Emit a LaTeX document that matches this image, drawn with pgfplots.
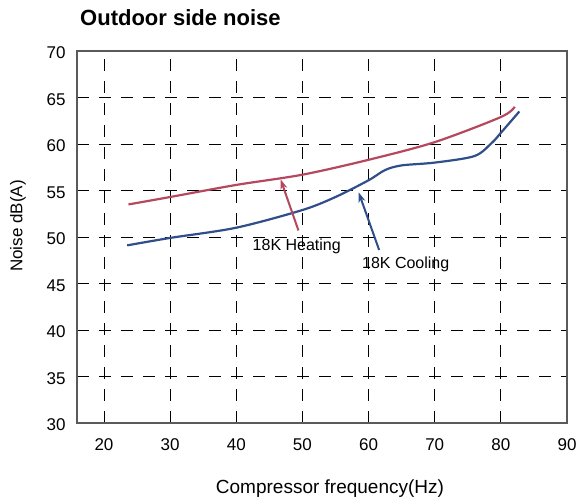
\documentclass[border=0pt]{standalone}
\usepackage{pgfplots}
\pgfplotsset{compat=1.18}
\usepackage{fontspec}
\setmainfont{Liberation Sans}
\usetikzlibrary{arrows.meta}

\definecolor{heatred}{RGB}{181,72,94}
\definecolor{coolblue}{RGB}{47,78,138}
\definecolor{framegray}{RGB}{90,90,90}

\begin{document}
\begin{tikzpicture}
    \useasboundingbox (-77pt,-80pt) rectangle (502pt,423pt);
    \begin{axis}[
        scale only axis,
        width=490pt,
        height=372pt,
        xmin=15.92, xmax=90,
        ymin=30, ymax=70,
        xtick={20,30,...,90},
        ytick={30,35,...,70},
        major tick length=0pt,
        grid=major,
        major grid style={black, line width=0.9pt, dash pattern=on 12pt off 10pt},
        axis line style={framegray, line width=1.1pt},
        tick label style={font=\fontsize{17}{20}\selectfont},
        xticklabel style={yshift=-12pt},
        yticklabel style={xshift=-8pt, yshift=-2pt},
        /pgf/number format/assume math mode=true,
        clip=false
    ]
    % 18K Heating
    \addplot[color=heatred, line width=2.2pt, smooth, tension=0.5, mark=none] coordinates {
        (23.7,53.5) (30,54.3) (40,55.6) (50,56.7) (60,58.3) (70,60.2) (80,62.9) (82.1,64.0)
    };
    % 18K Cooling
    \addplot[color=coolblue, line width=2.2pt, smooth, tension=0.5, mark=none] coordinates {
        (23.5,49.1) (30,49.9) (40,51.0) (50,52.9) (55,54.3) (60,56.1) (62.5,57.2) (65,57.7)
        (70,58.0) (76,58.7) (78.6,60.1) (80,61.2) (82.8,63.5)
    };

    \draw[heatred, line width=2pt, -{Stealth[length=10pt,width=7pt]}] (axis cs:49.4,50.7) -- (axis cs:46.7,56.2);
    \draw[coolblue, line width=2pt, -{Stealth[length=10pt,width=7pt]}] (axis cs:61.6,48.6) -- (axis cs:58.5,54.8);
    \node[anchor=base west, inner sep=0pt, font=\fontsize{16}{19}\selectfont] at (axis cs:42.46,48.6) {18K Heating};
    \node[anchor=base west, inner sep=0pt, font=\fontsize{16}{19}\selectfont] at (axis cs:59.0,46.56) {18K Cooling};
    \end{axis}
    \node[anchor=base west, inner sep=0pt, font=\bfseries\fontsize{22}{26}\selectfont] at (3pt,397pt) {Outdoor side noise};
    \node[anchor=base, inner sep=0pt, font=\fontsize{19}{22}\selectfont] at (253pt,-71pt) {Compressor frequency(Hz)};
    \node[rotate=90, inner sep=0pt, font=\fontsize{17}{20}\selectfont] at (-59pt,197pt) {Noise dB(A)};
\end{tikzpicture}
\end{document}
